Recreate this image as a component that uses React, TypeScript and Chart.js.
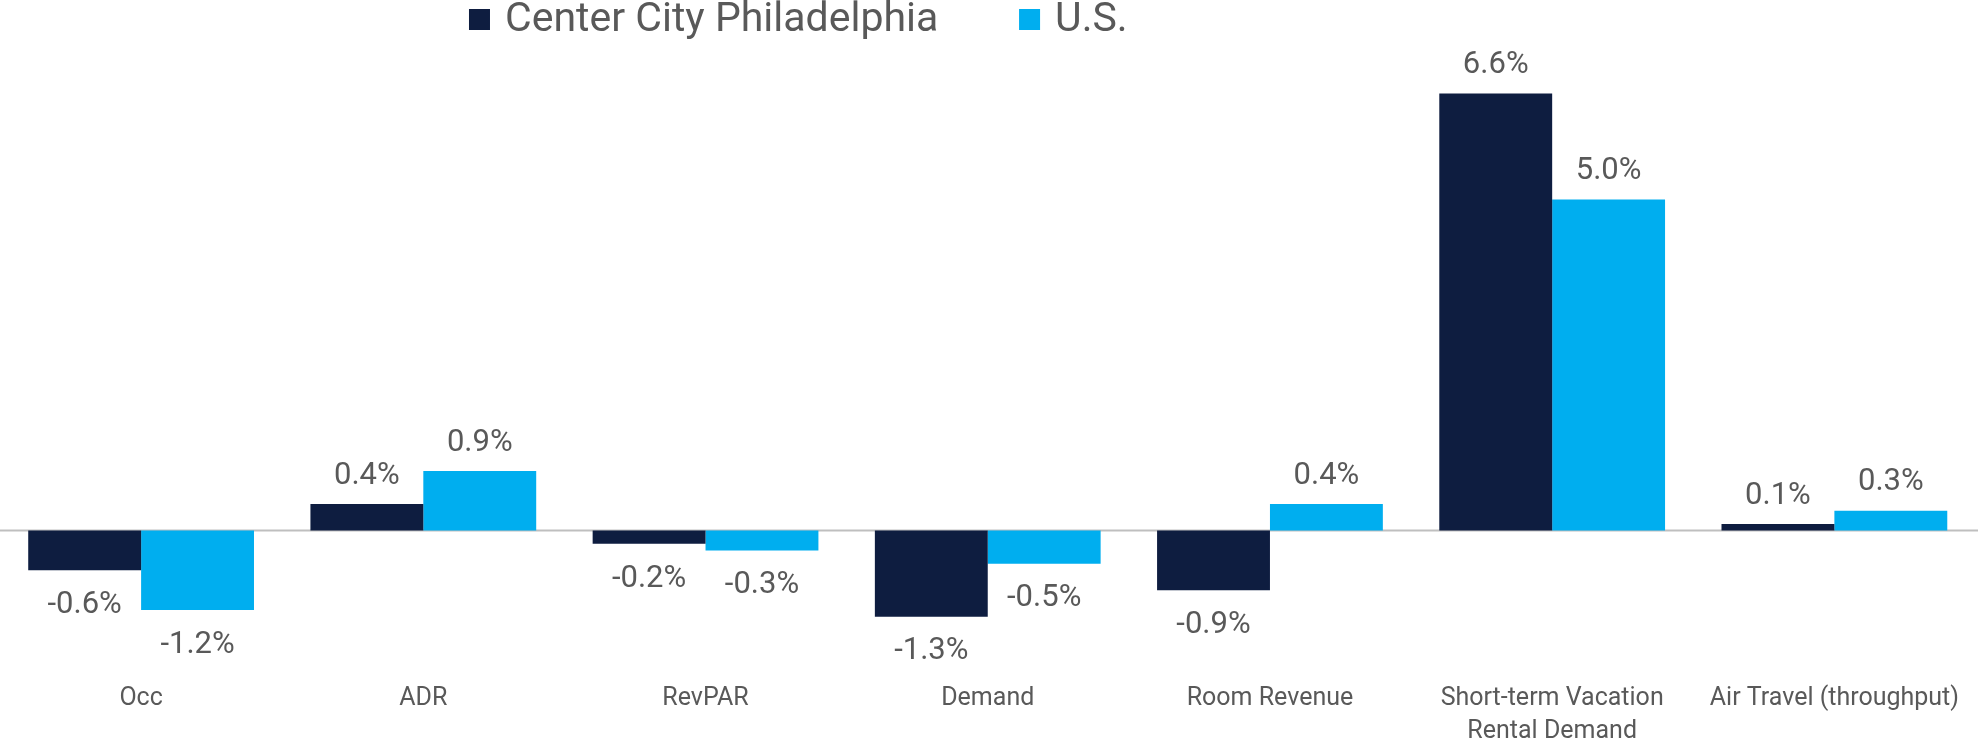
import React, { useEffect, useRef } from "react";
import { Chart, registerables } from "chart.js";

Chart.register(...registerables);

const categories: (string | string[])[] = [
  "Occ",
  "ADR",
  "RevPAR",
  "Demand",
  "Room Revenue",
  ["Short-term Vacation", "Rental Demand"],
  "Air Travel (throughput)",
];
const seriesNames = ["Center City Philadelphia", "U.S."];
const philly = [-0.6, 0.4, -0.2, -1.3, -0.9, 6.6, 0.1];
const us = [-1.2, 0.9, -0.3, -0.5, 0.4, 5.0, 0.3];
const colors = ["#0E1D40", "#00AEEF"];

const FONT = "'Roboto', 'Liberation Sans', sans-serif";
const TEXT = "#595959";

const labelPlugin = {
  id: "valueLabels",
  afterDatasetsDraw(chart: any) {
    const ctx = chart.ctx;
    ctx.save();
    ctx.font = `31px ${FONT}`;
    ctx.fillStyle = TEXT;
    ctx.textAlign = "center";
    ctx.textBaseline = "middle";
    chart.data.datasets.forEach((ds: any, i: number) => {
      const meta = chart.getDatasetMeta(i);
      meta.data.forEach((el: any, j: number) => {
        const v = ds.data[j];
        const y = v >= 0 ? el.y - 28 : el.y + 35;
        ctx.fillText(v.toFixed(1) + "%", el.x, y);
      });
    });
    ctx.restore();
  },
};

const zeroLinePlugin = {
  id: "zeroLine",
  beforeDatasetsDraw(chart: any) {
    const ctx = chart.ctx;
    const y = chart.scales.y.getPixelForValue(0);
    ctx.save();
    ctx.strokeStyle = "#BFBFBF";
    ctx.lineWidth = 2;
    ctx.beginPath();
    ctx.moveTo(0, y);
    ctx.lineTo(chart.width, y);
    ctx.stroke();
    ctx.restore();
  },
};

const legendPlugin = {
  id: "customLegend",
  afterDraw(chart: any) {
    const ctx = chart.ctx;
    const w = chart.width;
    ctx.save();
    ctx.font = `41px ${FONT}`;
    ctx.textBaseline = "middle";
    ctx.textAlign = "left";
    const starts = [0.2371 * w, 0.5152 * w];
    chart.data.datasets.forEach((ds: any, i: number) => {
      const x = starts[i];
      ctx.fillStyle = ds.backgroundColor;
      ctx.fillRect(x, 9, 21, 21);
      ctx.fillStyle = TEXT;
      ctx.fillText(ds.label, x + 36, 21);
    });
    ctx.restore();
  },
};

export default function App() {
  const ref = useRef<HTMLCanvasElement>(null);
  useEffect(() => {
    if (!ref.current) return;
    const chart = new Chart(ref.current, {
      type: "bar",
      data: {
        labels: categories,
        datasets: [
          { label: seriesNames[0], data: philly, backgroundColor: colors[0] },
          { label: seriesNames[1], data: us, backgroundColor: colors[1] },
        ],
      },
      options: {
        animation: false,
        responsive: false,
        maintainAspectRatio: false,
        layout: { padding: { top: 67, left: 0, right: 0, bottom: 0 } },
        datasets: { bar: { categoryPercentage: 0.8, barPercentage: 1.0 } },
        plugins: { legend: { display: false }, tooltip: { enabled: false } },
        scales: {
          x: {
            grid: { display: false, drawTicks: false },
            border: { display: false },
            ticks: {
              color: TEXT,
              font: { family: FONT, size: 25, lineHeight: 1.32 },
              padding: 19,
              maxRotation: 0,
              autoSkip: false,
            },
            afterFit: (scale: any) => {
              scale.height = 741 - 67 - 596;
            },
          },
          y: { display: false, min: -2, max: 7 },
        },
      },
      plugins: [zeroLinePlugin, labelPlugin, legendPlugin],
    });
    return () => chart.destroy();
  }, []);
  return (
    <div style={{ position: "fixed", left: 0, top: 0, width: 1978, height: 741, background: "#fff" }}>
      <canvas ref={ref} width={1978} height={741} style={{ display: "block" }} />
    </div>
  );
}
